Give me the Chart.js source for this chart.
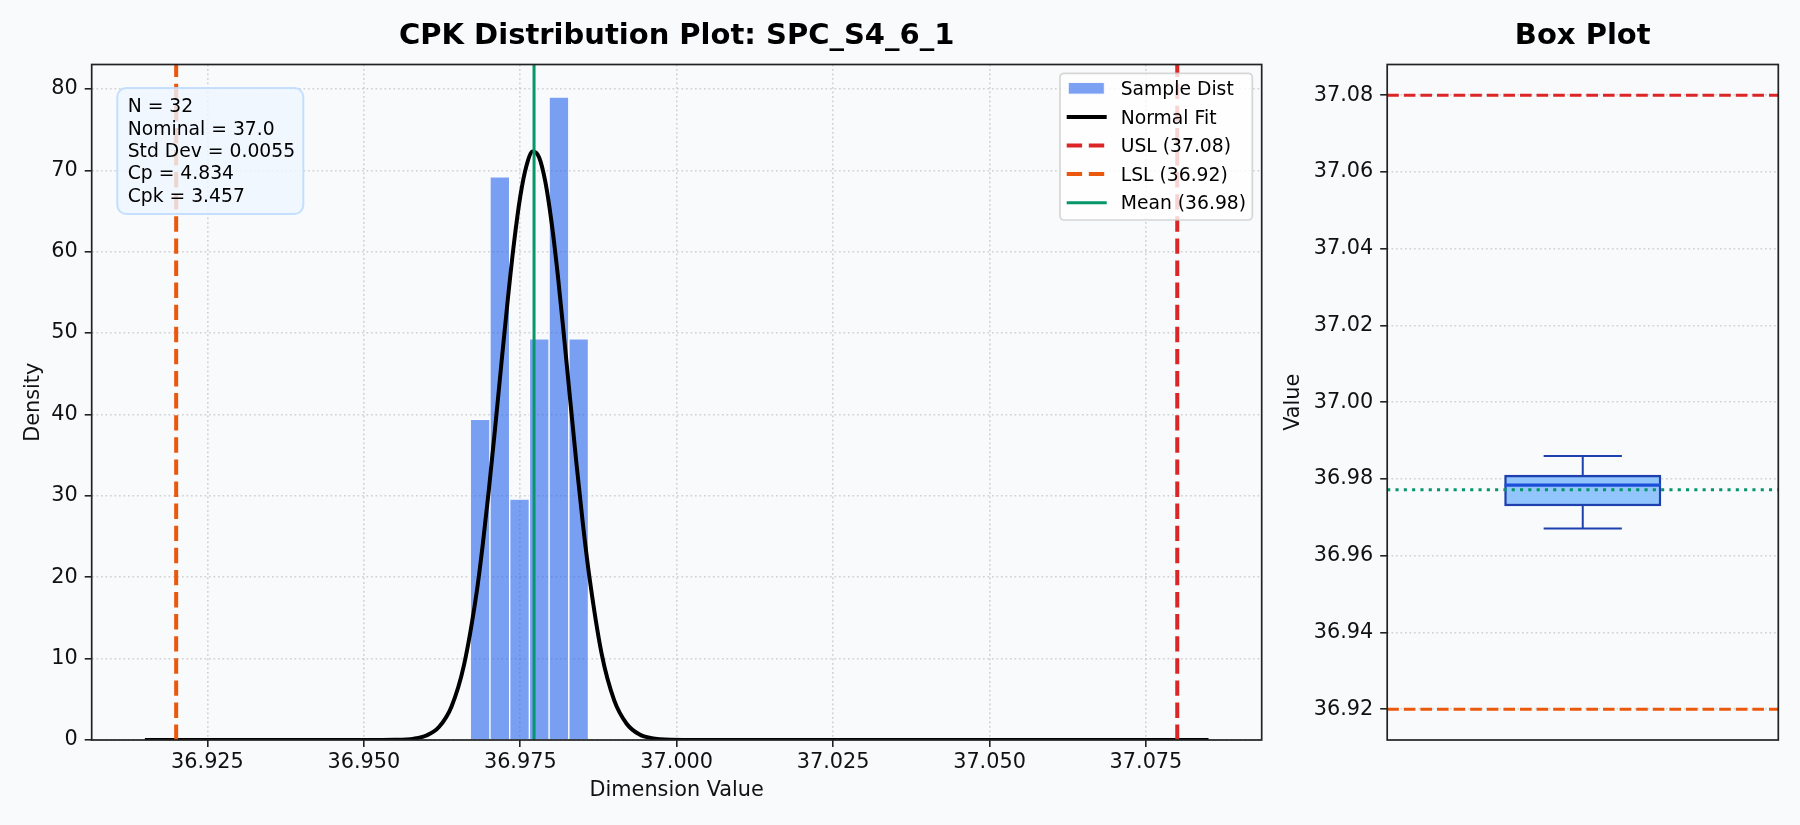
<!DOCTYPE html>
<html>
<head>
<meta charset="utf-8">
<title>CPK Distribution Plot: SPC_S4_6_1</title>
<script src="https://cdn.jsdelivr.net/npm/chart.js@4.4.1/dist/chart.umd.min.js"></script>
<style>
  html, body { margin: 0; padding: 0; background: #f8fafc; overflow: hidden; }
  #wrap { position: relative; width: 1800px; height: 825px; background: #f8fafc; }
  #distChart { position: absolute; left: 0; top: 0; }
  #boxChart { position: absolute; left: 1270px; top: 0; }
</style>
</head>
<body>
<div id="wrap">
  <canvas id="distChart" width="1270" height="825"></canvas>
  <canvas id="boxChart" width="530" height="825"></canvas>
</div>
<script>
// Values
const partName = 'SPC_S4_6_1';
const usl = 37.08;
const lsl = 36.92;
const meanValue = 36.9772;

// histogram (density), bin centres
const binCenters = [36.96858, 36.97173, 36.97488, 36.97803, 36.98118, 36.98433];
const binDensity = [39.4, 69.2, 29.6, 49.3, 79.0, 49.3];

// normal fit curve, points picked off the black line
const fitX = [36.915, 36.945, 36.952, 36.955, 36.958, 36.960, 36.962, 36.964, 36.966, 36.968,
              36.969, 36.970, 36.971, 36.972, 36.973, 36.974, 36.975, 36.976, 36.977, 36.978,
              36.979, 36.980, 36.981, 36.982, 36.983, 36.984, 36.985, 36.986, 36.988, 36.990,
              36.992, 36.994, 36.996, 36.999, 37.004, 37.040, 37.085];
const fitY = [0, 0, 0, 0.02, 0.17, 0.56, 1.6, 4.1, 9.2, 18.0,
              24.0, 30.9, 38.5, 46.4, 54.1, 61.1, 66.8, 70.6, 72.3, 71.6,
              68.6, 63.6, 57.1, 49.5, 41.6, 33.8, 26.6, 20.3, 10.6, 4.9,
              2.0, 0.7, 0.22, 0.03, 0, 0, 0];

const statsLines = ['N = 32', 'Nominal = 37.0', 'Std Dev = 0.0055', 'Cp = 4.834', 'Cpk = 3.457'];

// box plot: low whisker, Q1, median, Q3, high whisker
const boxStats = [36.9671, 36.9730, 36.9784, 36.9810, 36.9860];
const boxPosition = 1;

// axis ranges
const distX = [36.9065, 37.0935];
const distY = [0, 83];
const boxY = [36.912, 37.088];
const boxX = [0.5, 1.5];

// colours
const uslColor = '#dc2626';
const lslColor = '#ea580c';
const meanColor = '#059669';
const gridColor = 'rgba(176,176,176,0.55)';
const family = '"DejaVu Sans", "Liberation Sans", sans-serif';

Chart.defaults.font.family = family;
Chart.defaults.color = '#111';

function pts(xs, ys) {
    return xs.map((x, i) => ({ x: x, y: ys[i] }));
}

function roundedBox(ctx, x, y, w, h, r) {
    ctx.beginPath();
    ctx.moveTo(x + r, y);
    ctx.arcTo(x + w, y, x + w, y + h, r);
    ctx.arcTo(x + w, y + h, x, y + h, r);
    ctx.arcTo(x, y + h, x, y, r);
    ctx.arcTo(x, y, x + w, y, r);
    ctx.closePath();
}

function drawFrame(chart) {
    const { ctx, chartArea: a } = chart;
    ctx.save();
    ctx.strokeStyle = '#222';
    ctx.lineWidth = 1.7;
    ctx.strokeRect(a.left, a.top, a.right - a.left, a.bottom - a.top);
    ctx.restore();
}

function drawTitle(chart, text) {
    const { ctx, chartArea: a } = chart;
    ctx.save();
    ctx.font = 'bold 29px ' + family;
    ctx.fillStyle = '#000';
    ctx.textAlign = 'center';
    ctx.textBaseline = 'alphabetic';
    ctx.fillText(text, (a.left + a.right) / 2, 43.5);
    ctx.restore();
}

// shared axis styling (matplotlib look)
function axisGrid() {
    return {
        offset: false,
        color: gridColor, lineWidth: 1.6, borderDash: [1.7, 2.8],
        tickColor: '#222', tickWidth: 1.6, tickLength: 7, tickBorderDash: []
    };
}
const tickFont = { family: family, size: 20.8 };

// stats box + legend inside the distribution axes
const distDecor = {
    id: 'distDecor',
    afterDatasetsDraw(chart) {
        const { ctx, chartArea: a } = chart;
        ctx.save();

        // stats text box
        const bx = a.left + 25.6, by = a.top + 23.5, bw = 186, bh = 126;
        roundedBox(ctx, bx, by, bw, bh, 9);
        ctx.fillStyle = 'rgba(239,246,255,0.8)';
        ctx.fill();
        ctx.lineWidth = 2;
        ctx.strokeStyle = 'rgba(191,219,254,0.9)';
        ctx.stroke();
        ctx.font = '18.75px ' + family;
        ctx.fillStyle = '#000';
        ctx.textAlign = 'left';
        ctx.textBaseline = 'alphabetic';
        statsLines.forEach((t, i) => ctx.fillText(t, bx + 10.4, by + 24.3 + i * 22.3));

        // legend
        const items = chart.data.datasets
            .filter(d => d.legendRank !== undefined)
            .sort((p, q) => p.legendRank - q.legendRank);
        const lw = 192.3, lh = 146.7;
        const lx = a.right - 9.4 - lw, ly = a.top + 8.8;
        roundedBox(ctx, lx, ly, lw, lh, 4);
        ctx.fillStyle = 'rgba(255,255,255,0.8)';
        ctx.fill();
        ctx.lineWidth = 1.7;
        ctx.strokeStyle = 'rgba(204,204,204,0.8)';
        ctx.stroke();
        items.forEach((d, i) => {
            const cy = ly + 15 + i * 28.6;
            if (d.type === 'bar') {
                ctx.fillStyle = d.backgroundColor;
                ctx.fillRect(lx + 8.3, cy - 5.8, 36, 11.6);
                ctx.strokeStyle = d.borderColor;
                ctx.lineWidth = 1;
                ctx.strokeRect(lx + 8.3, cy - 5.8, 36, 11.6);
            } else {
                ctx.beginPath();
                ctx.setLineDash(d.borderDash || []);
                ctx.strokeStyle = d.borderColor;
                ctx.lineWidth = d.borderWidth;
                ctx.moveTo(lx + 6.7, cy);
                ctx.lineTo(lx + 46.7, cy);
                ctx.stroke();
                ctx.setLineDash([]);
            }
            ctx.fillStyle = '#000';
            ctx.fillText(d.label, lx + 60.7, ly + 21.7 + i * 28.6);
        });
        ctx.restore();
    },
    afterDraw(chart) {
        drawFrame(chart);
        drawTitle(chart, 'CPK Distribution Plot: ' + partName);
    }
};

const boxDecor = {
    id: 'boxDecor',
    afterDraw(chart) {
        drawFrame(chart);
        drawTitle(chart, 'Box Plot');
    }
};

// Distribution chart
new Chart(document.getElementById('distChart'), {
    type: 'line',
    data: {
        datasets: [
            {
                label: 'Mean (' + meanValue.toFixed(2) + ')', legendRank: 4, order: 1,
                data: pts([meanValue, meanValue], distY),
                borderColor: meanColor, borderWidth: 3, pointRadius: 0
            },
            {
                label: 'LSL (' + lsl.toFixed(2) + ')', legendRank: 3, order: 2,
                data: pts([lsl, lsl], distY),
                borderColor: lslColor, borderWidth: 4, borderDash: [15.4, 6.7], pointRadius: 0
            },
            {
                label: 'USL (' + usl.toFixed(2) + ')', legendRank: 2, order: 3,
                data: pts([usl, usl], distY),
                borderColor: uslColor, borderWidth: 4, borderDash: [15.4, 6.7], pointRadius: 0
            },
            {
                label: 'Normal Fit', legendRank: 1, order: 4,
                data: pts(fitX, fitY),
                borderColor: '#000', borderWidth: 4, pointRadius: 0,
                cubicInterpolationMode: 'monotone'
            },
            {
                type: 'bar', label: 'Sample Dist', legendRank: 0, order: 5,
                data: pts(binCenters, binDensity),
                backgroundColor: 'rgba(37,99,235,0.6)',
                borderColor: 'rgba(255,255,255,0.85)', borderWidth: 1,
                barPercentage: 1, categoryPercentage: 1
            }
        ]
    },
    options: {
        responsive: false,
        animation: false,
        devicePixelRatio: 1,
        events: [],
        layout: { padding: { left: 0, top: 64.5, right: 8.3, bottom: 0 } },
        plugins: { legend: { display: false }, tooltip: { enabled: false }, title: { display: false } },
        scales: {
            x: {
                type: 'linear', min: distX[0], max: distX[1], offset: false,
                ticks: {
                    stepSize: 0.025, includeBounds: false, autoSkip: false, maxRotation: 0,
                    callback: v => v.toFixed(3), font: tickFont, color: '#111', padding: 3
                },
                grid: axisGrid(),
                border: { display: false, dash: [1.7, 2.8] },
                title: {
                    display: true, text: 'Dimension Value', font: tickFont, color: '#111',
                    padding: { top: 0, bottom: 21.5 }
                },
                afterFit: s => { s.height = 85; }
            },
            y: {
                type: 'linear', min: distY[0], max: distY[1],
                ticks: {
                    stepSize: 10, includeBounds: false,
                    font: tickFont, color: '#111', padding: 7
                },
                grid: axisGrid(),
                border: { display: false, dash: [1.7, 2.8] },
                title: {
                    display: true, text: 'Density', font: tickFont, color: '#111',
                    padding: { top: 21, bottom: 0 }
                },
                afterFit: s => { s.width = 91.7; }
            }
        }
    },
    plugins: [distDecor]
});

// Box plot chart
const [whiskLow, q1, median, q3, whiskHigh] = boxStats;
const boxHalf = 0.2, capHalf = 0.1;

new Chart(document.getElementById('boxChart'), {
    type: 'line',
    data: {
        datasets: [
            {
                label: 'Mean', order: 1,
                data: pts(boxX, [meanValue, meanValue]),
                borderColor: meanColor, borderWidth: 3, borderDash: [3.1, 5.2], pointRadius: 0
            },
            {
                label: 'Median', order: 2,
                data: pts([boxPosition - boxHalf, boxPosition + boxHalf], [median, median]),
                borderColor: '#1d4ed8', borderWidth: 3.2, pointRadius: 0
            },
            {
                type: 'bar', label: 'IQR', order: 3,
                data: [{ x: boxPosition, y: [q1, q3] }],
                backgroundColor: '#93c5fd', borderColor: '#1e40af', borderWidth: 2.4,
                borderSkipped: false, barThickness: 156.4
            },
            {
                label: 'Upper whisker', order: 4,
                data: pts([boxPosition, boxPosition], [q3, whiskHigh]),
                borderColor: '#1e40af', borderWidth: 2, pointRadius: 0
            },
            {
                label: 'Lower whisker', order: 4,
                data: pts([boxPosition, boxPosition], [q1, whiskLow]),
                borderColor: '#1e40af', borderWidth: 2, pointRadius: 0
            },
            {
                label: 'Upper cap', order: 4,
                data: pts([boxPosition - capHalf, boxPosition + capHalf], [whiskHigh, whiskHigh]),
                borderColor: '#1e40af', borderWidth: 2, pointRadius: 0
            },
            {
                label: 'Lower cap', order: 4,
                data: pts([boxPosition - capHalf, boxPosition + capHalf], [whiskLow, whiskLow]),
                borderColor: '#1e40af', borderWidth: 2, pointRadius: 0
            },
            {
                label: 'USL', order: 5,
                data: pts(boxX, [usl, usl]),
                borderColor: uslColor, borderWidth: 3, borderDash: [11.6, 5], pointRadius: 0
            },
            {
                label: 'LSL', order: 5,
                data: pts(boxX, [lsl, lsl]),
                borderColor: lslColor, borderWidth: 3, borderDash: [11.6, 5], pointRadius: 0
            }
        ]
    },
    options: {
        responsive: false,
        animation: false,
        devicePixelRatio: 1,
        events: [],
        layout: { padding: { left: 0, top: 64.5, right: 21.7, bottom: 85 } },
        plugins: { legend: { display: false }, tooltip: { enabled: false }, title: { display: false } },
        scales: {
            x: { type: 'linear', min: boxX[0], max: boxX[1], offset: false, display: false },
            y: {
                type: 'linear', min: boxY[0], max: boxY[1],
                ticks: {
                    stepSize: 0.02, includeBounds: false,
                    callback: v => v.toFixed(2), font: tickFont, color: '#111', padding: 7
                },
                grid: axisGrid(),
                border: { display: false, dash: [1.7, 2.8] },
                title: {
                    display: true, text: 'Value', font: tickFont, color: '#111',
                    padding: { top: 11.2, bottom: 0 }
                },
                afterFit: s => { s.width = 117.2; }
            }
        }
    },
    plugins: [boxDecor]
});
</script>
</body>
</html>
